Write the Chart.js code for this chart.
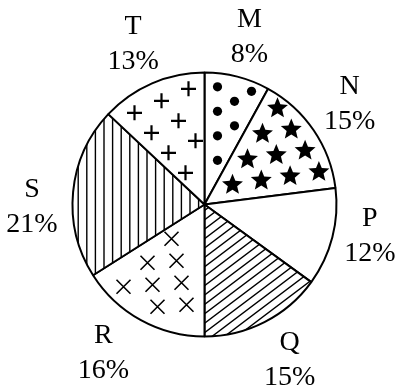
<!DOCTYPE html>
<html>
<head>
<meta charset="utf-8">
<script src="https://cdn.jsdelivr.net/npm/chart.js@4.4.0/dist/chart.umd.min.js"></script>
<style>
  html, body { margin: 0; padding: 0; background: #fff; }
  #pie { display: block; }
</style>
</head>
<body>
<canvas id="pie" width="399" height="391"></canvas>
<script>
const categories = ['M', 'N', 'P', 'Q', 'R', 'S', 'T'];
const shares = [8, 15, 12, 15, 16, 21, 13];
const shareLabels = shares.map(v => v + '%');

const PIE_RADIUS = 132;
const LABEL_FONT = '28px "Liberation Serif", serif';

// fill of each slice, same order as categories
const fills = ['dots', 'stars', 'plain', 'diagonal', 'crosses', 'vertical', 'plus'];

// where the two-line labels sit: nudge (degrees, clockwise) and distance from centre
const labelNudge = [0.4, -1.2, -4.3, -2, 5.8, -5.6, -0.3];
const labelDist = [176, 178, 168, 175.5, 178, 172.5, 177.5];

// mark lattices, relative to the pie centre
const lattices = {
    dots:    { origin: [13, -117.7], a: [17, 14.5], b: [-17, 10], margin: 6 },
    stars:   { origin: [58, -70.7], a: [28.8, -4.3], b: [-15, 25.5], margin: 9 },
    plus:    { origin: [-16, -115.7], a: [-27, 12], b: [17, 20], margin: 8 },
    crosses: { origin: [-57, 58.3], a: [29, -2], b: [-24, 24], margin: 10 }
};

const patternCache = {};

function sliceAngles(index) {
    const total = shares.reduce((s, v) => s + v, 0);
    let before = 0;
    for (let i = 0; i < index; i++) before += shares[i];
    return [before / total * Math.PI * 2, (before + shares[index]) / total * Math.PI * 2];
}

// true when a mark centred at (dx, dy) from the centre stays clear of the slice edges
function fitsInSlice(dx, dy, margin, start, end) {
    const r = Math.hypot(dx, dy);
    if (r > PIE_RADIUS - margin || r < margin) return false;
    let a = Math.atan2(dx, -dy);
    if (a < 0) a += Math.PI * 2;
    if (a <= start || a >= end) return false;
    const fromStart = a - start;
    const fromEnd = end - a;
    if (fromStart < Math.PI / 2 && r * Math.sin(fromStart) < margin) return false;
    if (fromEnd < Math.PI / 2 && r * Math.sin(fromEnd) < margin) return false;
    return true;
}

function drawMark(g, kind, x, y) {
    if (kind === 'dots') {
        g.beginPath();
        g.arc(x, y, 4.6, 0, Math.PI * 2);
        g.fill();
    } else if (kind === 'stars') {
        g.beginPath();
        for (let k = 0; k < 10; k++) {
            const rad = k % 2 === 0 ? 11 : 4.9;
            const ang = -Math.PI / 2 + k * Math.PI / 5;
            g.lineTo(x + rad * Math.cos(ang), y + rad * Math.sin(ang));
        }
        g.closePath();
        g.fill();
    } else if (kind === 'plus') {
        g.lineWidth = 2.2;
        g.beginPath();
        g.moveTo(x - 7.5, y); g.lineTo(x + 7.5, y);
        g.moveTo(x, y - 7.5); g.lineTo(x, y + 7.5);
        g.stroke();
    } else if (kind === 'crosses') {
        g.lineWidth = 1.6;
        g.beginPath();
        g.moveTo(x - 7, y - 7); g.lineTo(x + 7, y + 7);
        g.moveTo(x + 7, y - 7); g.lineTo(x - 7, y + 7);
        g.stroke();
    }
}

function slicePattern(chart, index) {
    const kind = fills[index];
    if (kind === 'plain') return '#ffffff';
    if (patternCache[index]) return patternCache[index];

    const area = chart.chartArea;
    if (!area) return '#ffffff';   // layout not ready yet
    const cx = (area.left + area.right) / 2;
    const cy = (area.top + area.bottom) / 2;
    const off = document.createElement('canvas');
    off.width = chart.width;
    off.height = chart.height;
    const g = off.getContext('2d');
    g.fillStyle = '#ffffff';
    g.fillRect(0, 0, off.width, off.height);
    g.fillStyle = '#000000';
    g.strokeStyle = '#000000';

    if (kind === 'vertical') {
        g.lineWidth = 1.4;
        g.beginPath();
        for (let k = -20; k < 40; k++) {
            const x = cx - 117.7 + 8.6 * k;
            g.moveTo(x, 0);
            g.lineTo(x, off.height);
        }
        g.stroke();
    } else if (kind === 'diagonal') {
        g.lineWidth = 1.4;
        g.beginPath();
        for (let k = -60; k < 60; k++) {
            const c = 43.6 + 9.4 * k;
            g.moveTo(cx - 250, cy + c + 0.754 * 250);
            g.lineTo(cx + 250, cy + c - 0.754 * 250);
        }
        g.stroke();
    } else {
        const lat = lattices[kind];
        const [start, end] = sliceAngles(index);
        for (let i = -10; i <= 10; i++) {
            for (let j = -10; j <= 10; j++) {
                const dx = lat.origin[0] + i * lat.a[0] + j * lat.b[0];
                const dy = lat.origin[1] + i * lat.a[1] + j * lat.b[1];
                if (fitsInSlice(dx, dy, lat.margin, start, end)) {
                    drawMark(g, kind, cx + dx, cy + dy);
                }
            }
        }
    }

    patternCache[index] = chart.ctx.createPattern(off, 'no-repeat');
    return patternCache[index];
}

// two-line labels (letter above, share below) outside each slice
const sliceLabels = {
    id: 'sliceLabels',
    afterDatasetsDraw(chart) {
        const ctx = chart.ctx;
        const arcs = chart.getDatasetMeta(0).data;
        ctx.save();
        ctx.fillStyle = '#000000';
        ctx.font = LABEL_FONT;
        ctx.textAlign = 'center';
        ctx.textBaseline = 'alphabetic';
        arcs.forEach((arc, i) => {
            const {x, y, startAngle, endAngle} = arc.getProps(['x', 'y', 'startAngle', 'endAngle'], true);
            const mid = (startAngle + endAngle) / 2 + labelNudge[i] * Math.PI / 180;
            const lx = x + labelDist[i] * Math.cos(mid);
            const ly = y + labelDist[i] * Math.sin(mid);
            ctx.fillText(categories[i], lx, ly - 7.7);
            ctx.fillText(shareLabels[i], lx, ly + 27.3);
        });
        ctx.restore();
    }
};

function drawChart() {
    const ctx = document.getElementById('pie').getContext('2d');
    new Chart(ctx, {
        type: 'pie',
        data: {
            labels: categories,
            datasets: [{
                data: shares,
                backgroundColor: c => slicePattern(c.chart, c.dataIndex),
                borderColor: '#000000',
                borderWidth: 2,
                radius: PIE_RADIUS
            }]
        },
        options: {
            responsive: false,
            animation: false,
            events: [],
            layout: {
                padding: { left: 72, right: 62, top: 72, bottom: 54 }
            },
            plugins: {
                legend: { display: false },
                tooltip: { enabled: false }
            }
        },
        plugins: [sliceLabels]
    });
}

// make sure the serif face is ready before the canvas text is drawn
document.fonts.load(LABEL_FONT, 'MNPQRST0123456789%').then(drawChart, drawChart);
</script>
</body>
</html>
